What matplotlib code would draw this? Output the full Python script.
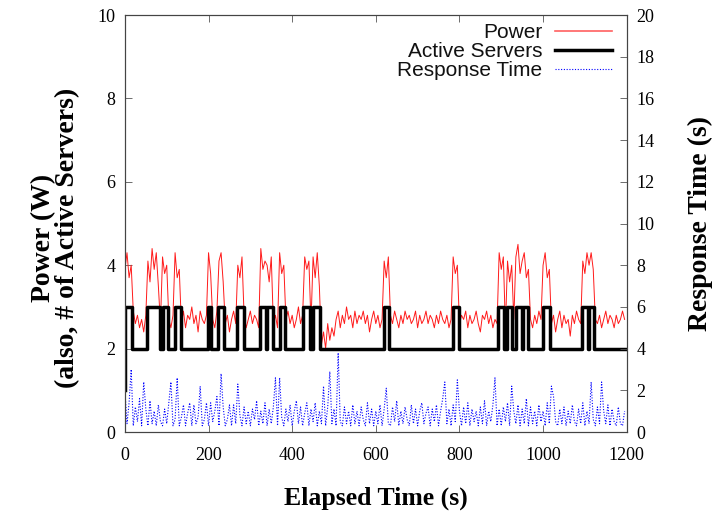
import numpy as np
import matplotlib
matplotlib.use("Agg")
import matplotlib.pyplot as plt

# power (W), one reading every 5 s
power = [
    3.9, 4.3, 3.7, 4.0,
    2.9, 2.6, 2.8, 2.5, 2.7, 2.4, 2.8,
    4.1, 3.6, 4.4, 3.9, 4.3, 3.5,
    2.6,
    4.2, 3.8, 4.0,
    2.7, 2.5, 2.8,
    4.3, 3.7, 3.9,
    2.6, 2.9, 2.5, 2.8, 2.7, 3.0, 2.6, 2.8, 2.4, 2.9, 2.7, 2.6, 2.8,
    4.3, 3.8,
    2.7, 2.5, 2.9,
    4.1, 4.3, 3.6,
    2.6, 2.8, 2.4, 2.7, 2.9, 2.6,
    4.0, 3.7, 4.2,
    2.8, 2.5, 2.7, 2.9, 2.6, 2.8, 2.7, 2.5,
    4.4, 3.9, 4.1,
    4.0, 3.6, 4.2,
    2.6, 2.8, 2.5,
    4.3, 3.8, 4.0,
    2.7, 2.9, 2.6, 2.8, 2.5, 2.7, 3.0, 2.6, 2.8,
    4.2, 3.9, 4.1,
    2.6,
    4.2, 3.7, 4.3, 3.5,
    2.1, 2.4, 2.0, 2.6, 2.2, 2.5, 2.3,
    2.7, 2.9, 2.5, 2.8, 2.6, 3.0, 2.7, 2.8, 2.5, 2.9,
    2.6, 2.8, 2.7, 2.9, 2.6, 2.8, 2.4, 2.7, 2.9, 2.6,
    2.8, 2.5, 2.7,
    4.1, 3.7, 4.2,
    2.8, 2.6, 2.9, 2.7, 2.5, 2.8, 2.6, 2.9, 2.7, 2.8,
    2.6, 2.7, 2.9, 2.5, 2.8, 2.6, 2.7, 2.9, 2.6, 2.8,
    2.7, 2.5, 2.8, 2.6, 2.9, 2.7, 2.6, 2.8, 2.5, 2.7,
    4.2, 3.8, 4.0,
    2.6, 2.8, 2.7, 2.9, 2.5, 2.8, 2.6, 2.7, 2.9, 2.6,
    2.4, 2.8, 2.7, 2.9, 2.6, 2.8, 2.5, 2.7, 2.6,
    4.3, 3.9, 4.2,
    2.5,
    4.1, 3.6, 4.0,
    2.7,
    4.2, 4.5, 3.8, 4.1,
    4.3, 3.7, 3.9,
    2.7, 2.5, 2.8, 2.6, 2.9, 2.7,
    4.0, 4.3, 3.7, 3.9,
    2.6, 2.8, 2.4, 2.7, 2.9, 2.5, 2.8, 2.6, 2.7, 2.3,
    2.8, 2.6, 2.9, 2.7, 2.6,
    4.1, 3.8, 4.3, 4.0, 4.3, 3.9,
    2.7, 2.6, 2.8, 2.5, 2.7, 2.9, 2.6, 2.8, 2.7, 2.5,
    2.8, 2.6, 2.7, 2.9, 2.7,
]
power_t = np.arange(len(power)) * 5

# active servers: switch times (s) and count from that time on
server_t = [0, 1, 18, 54, 83, 90, 102, 119, 133, 198, 207, 222, 236,
            269, 284, 322, 337, 341, 353, 370, 384, 427, 442, 451, 466,
            619, 631, 784, 798, 893, 907, 914, 925, 935, 950, 953, 965,
            1000, 1017, 1092, 1107, 1110, 1122, 1200]
server_n = [1, 3, 2, 3, 2, 3, 2, 3, 2, 3, 2, 3, 2,
            3, 2, 3, 2, 3, 2, 3, 2, 3, 2, 3, 2,
            3, 2, 3, 2, 3, 2, 3, 2, 3, 2, 3, 2,
            3, 2, 3, 2, 3, 2, 2]

# response time (s), one reading every 5 s
resp = [
    2.0, 0.4, 1.4, 3.0, 0.3, 1.2, 0.5, 1.6, 0.3, 2.4,
    1.1, 0.3, 1.5, 0.4, 1.0, 0.3, 1.3, 0.5, 0.3, 1.1,
    0.4, 1.4, 2.4, 0.3, 0.6, 2.6, 0.3, 0.7, 1.3, 0.3,
    0.9, 1.4, 0.3, 1.3, 0.4, 0.7, 2.2, 0.3, 0.6, 1.4,
    0.3, 1.4, 0.5, 1.0, 1.7, 0.3, 2.8, 1.2, 0.3, 0.6,
    1.3, 0.3, 1.3, 0.4, 2.3, 0.8, 0.3, 1.2, 0.4, 1.0,
    0.3, 1.1, 0.6, 1.5, 0.3, 1.0, 0.4, 1.4, 0.3, 1.1,
    0.4, 1.2, 2.6, 0.3, 2.6, 0.7, 0.3, 1.1, 0.5, 1.3,
    0.3, 1.0, 1.5, 0.4, 1.2, 0.3, 0.9, 1.4, 0.3, 1.1,
    0.5, 1.4, 0.3, 1.0, 0.4, 2.2, 0.3, 1.2, 2.9, 0.4,
    1.1, 0.3, 3.8, 0.5, 0.3, 1.2, 0.4, 1.0, 0.3, 1.3,
    0.4, 1.0, 0.3, 1.2, 0.6, 0.3, 1.4, 0.4, 1.1, 0.3,
    1.0, 0.4, 1.3, 0.3, 1.1, 2.1, 0.4, 0.3, 1.2, 0.5,
    1.5, 0.3, 1.0, 0.4, 1.2, 0.6, 0.3, 1.3, 0.4, 1.1,
    0.3, 1.0, 1.4, 0.4, 0.9, 1.2, 0.3, 1.1, 0.5, 1.3,
    0.3, 1.0, 1.6, 2.4, 0.4, 1.1, 0.3, 1.3, 0.5, 2.5,
    1.0, 0.3, 1.2, 0.4, 1.4, 0.3, 1.1, 0.5, 1.0, 0.3,
    1.2, 0.4, 1.5, 0.3, 1.0, 0.5, 1.3, 2.6, 0.3, 1.1,
    0.3, 1.2, 0.5, 1.4, 0.3, 2.2, 1.0, 0.4, 1.3, 0.3,
    1.1, 0.4, 1.6, 0.3, 1.2, 0.4, 1.0, 0.3, 1.3, 0.5,
    1.0, 0.3, 1.4, 0.4, 2.2, 1.7, 0.5, 0.3, 1.1, 0.4,
    1.2, 0.3, 1.0, 0.4, 1.3, 0.5, 0.3, 1.1, 0.4, 1.4,
    0.3, 1.0, 0.4, 2.4, 0.6, 0.3, 1.2, 0.4, 2.4, 1.0,
    0.4, 1.3, 0.3, 1.1, 0.5, 0.3, 1.2, 0.4, 0.3, 1.0,
]
resp_t = np.arange(len(resp)) * 5

x_ticks = [0, 200, 400, 600, 800, 1000, 1200]
y_ticks = [0, 2, 4, 6, 8, 10]
y2_ticks = [0, 2, 4, 6, 8, 10, 12, 14, 16, 18, 20]

serif = "Liberation Serif"
sans = "Liberation Sans"

fig = plt.figure(figsize=(7.22, 5.18), dpi=100)
ax = fig.add_axes([0.173, 0.166, 0.695, 0.805])
ax2 = ax.twinx()

l1, = ax.plot(power_t, power, color="#ff1a1a", lw=0.7, label="Power")
l2, = ax.step(server_t, server_n, where="post", color="black", lw=2.5,
              label="Active Servers")
l3, = ax2.plot(resp_t, resp, color="blue", lw=0.8, linestyle=(0, (1, 1.5)),
               label="Response Time")

ax.set_xlim(0, 1200)
ax.set_ylim(0, 10)
ax2.set_ylim(0, 20)
ax.set_xticks(x_ticks)
ax.set_yticks(y_ticks)
ax2.set_yticks(y2_ticks)

for a in (ax, ax2):
    for s in a.spines.values():
        s.set_color("#444444")
        s.set_linewidth(0.8)
ax.tick_params(axis="x", direction="in", length=5, width=0.6, color="#555555",
               labelsize=13, top=True, pad=11)
ax.tick_params(axis="y", direction="in", length=5, width=0.6, color="#555555",
               labelsize=13, pad=7)
ax2.tick_params(direction="in", length=5, width=0.6, color="#555555",
                labelsize=13, pad=7)
for lab in ax.get_xticklabels() + ax.get_yticklabels() + ax2.get_yticklabels():
    lab.set_family(serif)

ax.set_xlabel("Elapsed Time (s)", family=serif, fontsize=18.5,
              fontweight="bold", labelpad=16)
ax.set_ylabel("Power (W)\n(also, # of Active Servers)", family=serif,
              fontsize=20, fontweight="bold", labelpad=12, linespacing=0.95)
ax.yaxis.label.set_y(0.465)
ax2.set_ylabel("Response Time (s)", family=serif, fontsize=20,
               fontweight="bold", labelpad=24)

leg = ax2.legend(handles=[l1, l2, l3], loc="upper right", frameon=False,
                 markerfirst=False, prop={"family": sans, "size": 15},
                 handlelength=2.75, handletextpad=0.6, labelspacing=0.0,
                 borderaxespad=0.0, bbox_to_anchor=(0.987, 1.0))
for t in leg.get_texts():
    t.set_color("#111111")
leg.get_lines()[0].set_linewidth(1.2)
leg.get_lines()[0].set_color("#ff6060")

fig.savefig("out.png", dpi=100)
